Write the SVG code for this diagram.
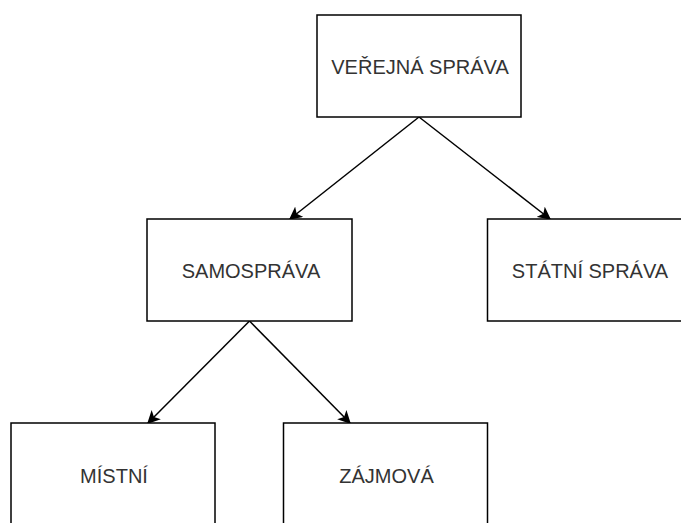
<svg xmlns="http://www.w3.org/2000/svg" width="681" height="523" viewBox="0 0 681 523">
<style>
.box{fill:#fff;stroke:#000;stroke-width:1.5}
.lbl{font-family:"Liberation Sans",Arial,sans-serif;font-size:20px;fill:#333;text-anchor:middle}
.edge{stroke:#000;stroke-width:1.5;fill:none}
</style>
<defs>
<marker id="arr" viewBox="0 0 10 10" refX="9" refY="5" markerWidth="13" markerHeight="13" markerUnits="userSpaceOnUse" orient="auto">
<path d="M0,0 L10,5 L0,10 L2.5,5 Z" fill="#000"/>
</marker>
</defs>
<rect width="681" height="523" fill="#fff"/>
<g id="connectors">
<line class="edge" x1="419" y1="117" x2="290" y2="219" marker-end="url(#arr)"/>
<line class="edge" x1="419" y1="117" x2="550" y2="219" marker-end="url(#arr)"/>
<line class="edge" x1="249.5" y1="321" x2="148" y2="423" marker-end="url(#arr)"/>
<line class="edge" x1="249.5" y1="321" x2="350" y2="423" marker-end="url(#arr)"/>
</g>
<g id="verejna-sprava">
<rect class="box" x="317" y="15" width="204" height="102"/>
<text class="lbl" x="420" y="73.5">VEŘEJNÁ SPRÁVA</text>
</g>
<g id="samosprava">
<rect class="box" x="147" y="219" width="205" height="102"/>
<text class="lbl" x="251" y="278">SAMOSPRÁVA</text>
</g>
<g id="statni-sprava">
<rect class="box" x="487.5" y="219" width="205" height="102"/>
<text class="lbl" x="590" y="278">STÁTNÍ SPRÁVA</text>
</g>
<g id="mistni">
<rect class="box" x="11" y="423" width="204" height="102"/>
<text class="lbl" x="114" y="482.5">MÍSTNÍ</text>
</g>
<g id="zajmova">
<rect class="box" x="283.5" y="423" width="204" height="102"/>
<text class="lbl" x="386.5" y="482.5">ZÁJMOVÁ</text>
</g>
</svg>
